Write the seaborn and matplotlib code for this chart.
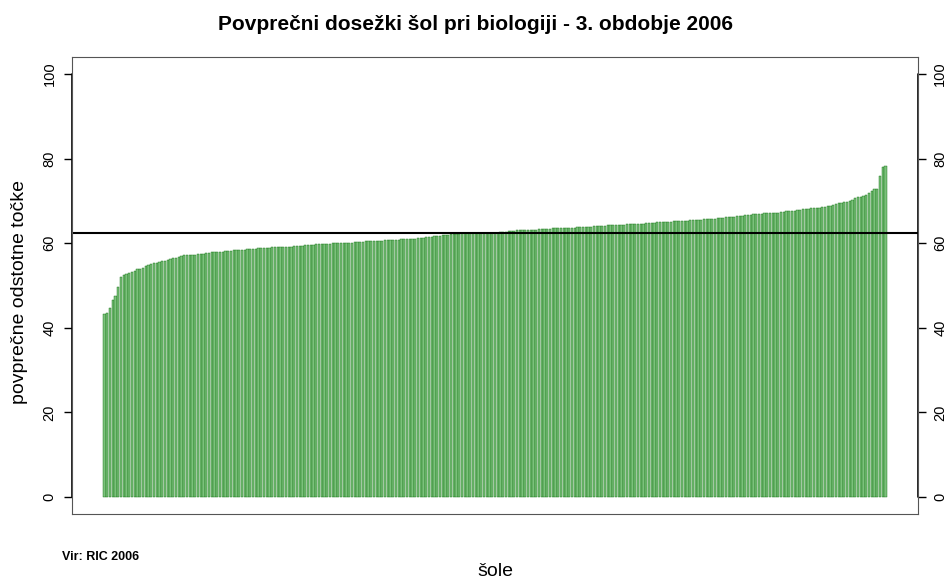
import matplotlib

matplotlib.use("Agg")
import matplotlib.pyplot as plt
import numpy as np
import pandas as pd
import seaborn as sns


TITLE = "Povprečni dosežki šol pri biologiji - 3. obdobje 2006"
Y_LABEL = "povprečne odstotne točke"
X_LABEL = "šole"
SOURCE = "Vir: RIC 2006"

Y_TICKS = [0, 20, 40, 60, 80, 100]
MEAN_SCORE = 62.4

# average percentage per school, sorted
SCORES = [
    43.3, 43.5, 44.7, 46.5, 47.6, 49.7, 51.9, 52.4, 52.7, 52.9, 53.1, 53.4, 53.8, 54.0, 54.2,
    54.6, 54.8, 55.1, 55.2, 55.4, 55.5, 55.7, 55.9, 56.1, 56.3, 56.5, 56.6, 56.8, 56.9, 57.1,
    57.1, 57.2, 57.3, 57.3, 57.4, 57.5, 57.5, 57.6, 57.7, 57.8, 57.8, 57.9, 58.0, 58.0, 58.1,
    58.2, 58.2, 58.3, 58.4, 58.4, 58.5, 58.5, 58.6, 58.6, 58.7, 58.7, 58.8, 58.8, 58.9, 58.9,
    58.9, 59.0, 59.0, 59.0, 59.1, 59.1, 59.2, 59.2, 59.2, 59.3, 59.3, 59.3, 59.4, 59.5, 59.5,
    59.6, 59.6, 59.7, 59.8, 59.8, 59.8, 59.9, 59.9, 60.0, 60.0, 60.0, 60.0, 60.1, 60.1, 60.1,
    60.1, 60.2, 60.2, 60.3, 60.3, 60.4, 60.4, 60.5, 60.5, 60.5, 60.6, 60.6, 60.7, 60.7, 60.7,
    60.8, 60.8, 60.8, 60.9, 60.9, 61.0, 61.0, 61.1, 61.1, 61.2, 61.2, 61.3, 61.4, 61.5, 61.5,
    61.6, 61.7, 61.8, 61.9, 61.9, 62.0, 62.1, 62.2, 62.2, 62.2, 62.3, 62.3, 62.3, 62.3, 62.3,
    62.4, 62.4, 62.4, 62.4, 62.5, 62.5, 62.5, 62.5, 62.5, 62.6, 62.6, 62.7, 62.8, 62.8, 62.9,
    63.0, 63.0, 63.0, 63.1, 63.1, 63.2, 63.2, 63.2, 63.3, 63.3, 63.3, 63.4, 63.4, 63.5, 63.5,
    63.5, 63.6, 63.6, 63.6, 63.7, 63.7, 63.7, 63.8, 63.8, 63.8, 63.9, 63.9, 63.9, 64.0, 64.0,
    64.0, 64.1, 64.1, 64.2, 64.2, 64.3, 64.4, 64.4, 64.4, 64.4, 64.5, 64.5, 64.5, 64.5, 64.5,
    64.6, 64.6, 64.7, 64.7, 64.8, 64.8, 64.9, 64.9, 65.0, 65.0, 65.1, 65.1, 65.2, 65.2, 65.2,
    65.3, 65.3, 65.3, 65.4, 65.4, 65.5, 65.5, 65.5, 65.6, 65.6, 65.7, 65.8, 65.8, 65.9, 66.0,
    66.0, 66.1, 66.1, 66.2, 66.3, 66.4, 66.5, 66.5, 66.6, 66.7, 66.7, 66.8, 66.9, 67.0, 67.0,
    67.1, 67.1, 67.1, 67.2, 67.2, 67.2, 67.3, 67.4, 67.5, 67.6, 67.7, 67.7, 67.8, 67.9, 68.0,
    68.0, 68.1, 68.2, 68.2, 68.3, 68.4, 68.5, 68.6, 68.7, 68.9, 69.0, 69.2, 69.5, 69.6, 69.7,
    69.8, 70.0, 70.3, 70.7, 70.9, 71.0, 71.2, 71.5, 71.9, 72.4, 72.8, 72.9, 75.8, 78.0, 78.2,
]

BAR_FILL = "#7cc17c"
BAR_EDGE = "#0a6e0a"
BOX_COLOR = "#555555"


def main():
    sns.set_theme(style="white")
    plt.rcParams["font.family"] = ["Liberation Sans", "DejaVu Sans"]
    plt.rcParams["text.color"] = "black"
    plt.rcParams["axes.labelcolor"] = "black"
    plt.rcParams["ytick.color"] = "black"

    df = pd.DataFrame({"school": np.arange(len(SCORES)), "score": SCORES})

    fig = plt.figure(figsize=(9.52, 5.79), dpi=100)
    ax = fig.add_axes([72 / 952, 65 / 579, 846 / 952, 457 / 579])

    # R barplot: width 1, space 0.2 -> relative width 1/1.2
    bar_w = 1 / 1.2
    sns.barplot(
        data=df,
        x="school",
        y="score",
        color=BAR_FILL,
        saturation=1,
        width=bar_w * 0.9,
        edgecolor=BAR_EDGE,
        linewidth=0.3,
        ax=ax,
    )

    n = len(SCORES)
    lo, hi = -bar_w / 2, n - 1 + bar_w / 2
    pad = 0.04 * (hi - lo)
    ax.set_xlim(lo - pad, hi + pad)
    ax.set_ylim(-4, 104)

    ax.axhline(MEAN_SCORE, color="black", linewidth=1.5)

    ax.set_xticks([])
    ax.set_xlabel("")
    ax.set_yticks(Y_TICKS)
    ax.set_yticklabels([str(t) for t in Y_TICKS], rotation=90, va="center")
    ax.tick_params(
        axis="y",
        left=True,
        right=True,
        labelleft=True,
        labelright=True,
        direction="out",
        length=6,
        width=1,
        color="black",
        labelcolor="black",
        pad=5,
        labelsize=10.5,
    )
    for lab in ax.yaxis.get_ticklabels():
        lab.set_va("center")

    for spine in ax.spines.values():
        spine.set_visible(True)
        spine.set_color(BOX_COLOR)
        spine.set_linewidth(0.8)

    # axis lines from 0 to 100 on both sides, like R's axis()
    y0, y1 = 4 / 108, 104 / 108
    ax.axvline(ax.get_xlim()[0], ymin=y0, ymax=y1, color="black", linewidth=1.2, clip_on=False)
    ax.axvline(ax.get_xlim()[1], ymin=y0, ymax=y1, color="black", linewidth=1.2, clip_on=False)

    ax.set_ylabel(Y_LABEL, fontsize=14, va="center", color="black")
    ax.yaxis.set_label_coords((20 - 72) / 846, (514 - 292) / 457)

    fig.text(495 / 952, 1 - 572 / 579, X_LABEL, fontsize=14, ha="center", va="center")
    fig.text(0.5, 1 - 24 / 579, TITLE, fontsize=15, fontweight="bold", ha="center", va="center")
    fig.text(62 / 952, 1 - 557 / 579, SOURCE, fontsize=9, fontweight="bold", ha="left", va="center")

    fig.savefig("out.png", dpi=100, facecolor="white")
    plt.close(fig)


if __name__ == "__main__":
    main()
